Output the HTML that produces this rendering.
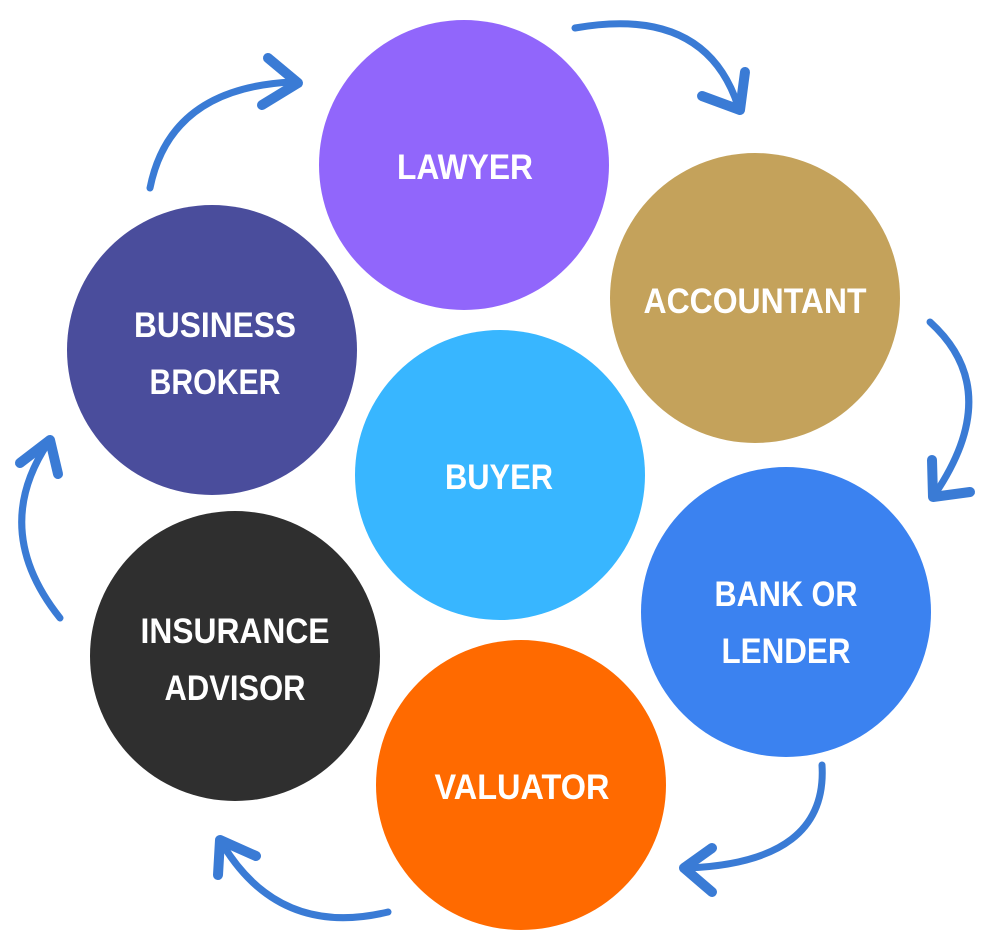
<!DOCTYPE html>
<html><head><style>
body{margin:0;background:#fff;}
svg{display:block}
text{font-family:"Liberation Sans Narrow","Liberation Sans",sans-serif;font-weight:bold;fill:#fff;font-size:35px;text-anchor:middle}
</style></head><body>
<svg width="990" height="942" viewBox="0 0 990 942">
<circle cx="464" cy="165" r="145" fill="#9166fb"/>
<circle cx="755" cy="298" r="145" fill="#c4a25b"/>
<circle cx="212" cy="350" r="145" fill="#4a4d9c"/>
<circle cx="500" cy="475" r="145" fill="#38b6ff"/>
<circle cx="786" cy="612" r="145" fill="#3b82f0"/>
<circle cx="235" cy="656" r="145" fill="#2f2f2f"/>
<circle cx="521" cy="785" r="145" fill="#ff6a00"/>
<g lengthAdjust="spacingAndGlyphs">
<text x="465" y="179" textLength="136" lengthAdjust="spacingAndGlyphs">LAWYER</text>
<text x="755" y="313" textLength="223" lengthAdjust="spacingAndGlyphs">ACCOUNTANT</text>
<text x="215" y="337" textLength="162" lengthAdjust="spacingAndGlyphs">BUSINESS</text>
<text x="215" y="394" textLength="131" lengthAdjust="spacingAndGlyphs">BROKER</text>
<text x="499" y="489" textLength="108" lengthAdjust="spacingAndGlyphs">BUYER</text>
<text x="786" y="606" textLength="143" lengthAdjust="spacingAndGlyphs">BANK OR</text>
<text x="786" y="663" textLength="129" lengthAdjust="spacingAndGlyphs">LENDER</text>
<text x="235" y="643" textLength="189" lengthAdjust="spacingAndGlyphs">INSURANCE</text>
<text x="235" y="700" textLength="141" lengthAdjust="spacingAndGlyphs">ADVISOR</text>
<text x="522" y="799" textLength="175" lengthAdjust="spacingAndGlyphs">VALUATOR</text>
</g>
<g fill="none" stroke="#3a7bd5" stroke-linecap="round" stroke-linejoin="round">
<path d="M150 188 Q170 88 292 82" stroke-width="7"/>
<polyline points="268,58 298,83 262,105" stroke-width="10"/>
<path d="M575 28 Q705 5 738 106" stroke-width="7"/>
<polyline points="702,96 740,110 745,72" stroke-width="10"/>
<path d="M930 322 Q1005 390 935 494" stroke-width="7"/>
<polyline points="932,460 933,497 970,492" stroke-width="10"/>
<path d="M822 765 Q828 862 688 868" stroke-width="7"/>
<polyline points="712,848 684,868 712,892" stroke-width="10"/>
<path d="M388 912 Q280 938 223 845" stroke-width="7"/>
<polyline points="218,875 220,840 256,856" stroke-width="10"/>
<path d="M60 618 Q-10 530 48 443" stroke-width="7"/>
<polyline points="20,463 50,440 58,474" stroke-width="10"/>
</g>
</svg>
</body></html>
